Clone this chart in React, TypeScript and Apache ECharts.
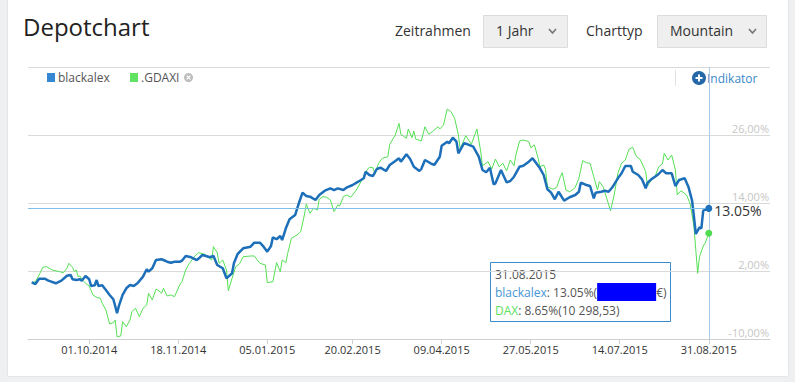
import React, { useEffect, useRef } from 'react';
import * as echarts from 'echarts';

const blueDates = [
  '2014-08-31','2014-09-02','2014-09-04','2014-09-07','2014-09-09','2014-09-13','2014-09-16','2014-09-19','2014-09-21','2014-09-22',
  '2014-09-24','2014-09-26','2014-09-27','2014-09-29','2014-10-01','2014-10-02','2014-10-04','2014-10-05','2014-10-06','2014-10-08',
  '2014-10-10','2014-10-12','2014-10-14','2014-10-15','2014-10-16','2014-10-17','2014-10-19','2014-10-21','2014-10-23','2014-10-25',
  '2014-10-27','2014-10-30','2014-11-01','2014-11-02','2014-11-04','2014-11-06','2014-11-09','2014-11-10','2014-11-12','2014-11-14',
  '2014-11-16','2014-11-19','2014-11-20','2014-11-22','2014-11-25','2014-11-28','2014-11-29','2014-12-01','2014-12-03','2014-12-05',
  '2014-12-07','2014-12-09','2014-12-12','2014-12-14','2014-12-17','2014-12-18','2014-12-20','2014-12-23','2014-12-27','2014-12-29',
  '2015-01-01','2015-01-03','2015-01-05','2015-01-07','2015-01-08','2015-01-10','2015-01-12','2015-01-13','2015-01-15','2015-01-17',
  '2015-01-20','2015-01-22','2015-01-24','2015-01-26','2015-01-28','2015-01-31','2015-02-02','2015-02-05','2015-02-08','2015-02-10',
  '2015-02-12','2015-02-15','2015-02-17','2015-02-20','2015-02-23','2015-02-26','2015-02-27','2015-03-01','2015-03-03','2015-03-05',
  '2015-03-07','2015-03-10','2015-03-12','2015-03-15','2015-03-17','2015-03-18','2015-03-21','2015-03-23','2015-03-25','2015-03-28',
  '2015-03-29','2015-03-31','2015-04-03','2015-04-05','2015-04-08','2015-04-09','2015-04-12','2015-04-13','2015-04-15','2015-04-17',
  '2015-04-18','2015-04-21','2015-04-23','2015-04-26','2015-04-29','2015-05-01','2015-05-03','2015-05-05','2015-05-07','2015-05-08',
  '2015-05-11','2015-05-12','2015-05-14','2015-05-16','2015-05-18','2015-05-21','2015-05-23','2015-05-26','2015-05-28','2015-05-30',
  '2015-06-01','2015-06-03','2015-06-05','2015-06-07','2015-06-09','2015-06-11','2015-06-14','2015-06-17','2015-06-20','2015-06-22',
  '2015-06-23','2015-06-26','2015-06-28','2015-06-30','2015-07-01','2015-07-04','2015-07-06','2015-07-08','2015-07-10','2015-07-13',
  '2015-07-15','2015-07-17','2015-07-20','2015-07-21','2015-07-24','2015-07-26','2015-07-28','2015-07-29','2015-07-31','2015-08-02',
  '2015-08-04','2015-08-06','2015-08-08','2015-08-11','2015-08-13','2015-08-15','2015-08-18','2015-08-20','2015-08-22','2015-08-23',
  '2015-08-24','2015-08-26','2015-08-27','2015-08-28','2015-08-31'
];
const blueValues = [
  0, -0.3, 0.64, 0.64, 0.29, -0.17, 0.29, 1.17, 1.3, 0.54,
  0.41, 0.54, 0.29, 1.12, 0.54, -0.65, -0.52, 0.41, -0.65, -0.52,
  -1.35, -2.23, -2.99, -4.17, -5.46, -4.17, -2.23, -1.05, -0.47, -0.65,
  -0.17, 1.0, 2.3, 1.88, 2.48, 3.94, 4.07, 3.94, 3.64, 3.47,
  3.64, 3.64, 3.82, 4.65, 4.42, 3.94, 4.2, 4.82, 4.65, 4.42,
  4.65, 3.06, 2.48, 0.71, 1.6, 3.36, 5.0, 6.0, 6.29, 7.0,
  7.0, 6.29, 5.41, 6.41, 7.95, 7.6, 8.18, 7.47, 9.54, 11.12,
  11.88, 13.95, 15.82, 15.24, 15.12, 14.53, 15.41, 16.17, 16.59, 16.29,
  16.59, 16.29, 16.77, 17.18, 17.76, 18.36, 19.52, 18.94, 18.77, 20.0,
  20.23, 19.65, 20.71, 21.41, 21.89, 21.29, 22.59, 21.76, 20.41, 19.65,
  20.0, 21.59, 21.01, 20.71, 22.17, 24.11, 24.82, 24.54, 25.52, 24.82,
  22.77, 24.54, 24.36, 23.94, 22.17, 19.82, 19.42, 20.23, 17.3, 17.48,
  19.82, 19.07, 17.65, 17.88, 18.64, 20.41, 20.58, 21.29, 21.89, 21.01,
  20.12, 18.94, 16.42, 15.82, 14.65, 15.99, 14.41, 15.01, 15.41, 15.99,
  17.58, 17.18, 17.0, 14.83, 15.82, 15.99, 16.17, 15.99, 16.77, 18.36,
  19.24, 20.53, 20.53, 19.52, 18.94, 18.18, 16.59, 17.58, 18.18, 18.64,
  19.12, 19.82, 19.24, 19.24, 17.0, 18.06, 18.36, 16.88, 14.41, 11.58,
  8.53, 9.71, 9.54, 12.64, 13.05
];

const greenDates = [
  '2014-08-31','2014-09-02','2014-09-04','2014-09-06','2014-09-08','2014-09-11','2014-09-15','2014-09-17','2014-09-19','2014-09-20',
  '2014-09-22','2014-09-23','2014-09-24','2014-09-25','2014-09-26','2014-09-27','2014-09-29','2014-10-01','2014-10-03','2014-10-05',
  '2014-10-07','2014-10-08','2014-10-10','2014-10-12','2014-10-14','2014-10-15','2014-10-16','2014-10-18','2014-10-19','2014-10-21',
  '2014-10-23','2014-10-24','2014-10-26','2014-10-28','2014-10-30','2014-11-01','2014-11-02','2014-11-04','2014-11-06','2014-11-07',
  '2014-11-09','2014-11-10','2014-11-12','2014-11-14','2014-11-16','2014-11-19','2014-11-20','2014-11-22','2014-11-24','2014-11-27',
  '2014-11-29','2014-12-02','2014-12-04','2014-12-06','2014-12-07','2014-12-09','2014-12-10','2014-12-12','2014-12-14','2014-12-15',
  '2014-12-17','2014-12-19','2014-12-21','2014-12-23','2014-12-27','2014-12-29','2015-01-01','2015-01-04','2015-01-05','2015-01-08',
  '2015-01-10','2015-01-12','2015-01-13','2015-01-15','2015-01-16','2015-01-18','2015-01-21','2015-01-23','2015-01-25','2015-01-26',
  '2015-01-28','2015-01-30','2015-02-01','2015-02-02','2015-02-04','2015-02-06','2015-02-08','2015-02-10','2015-02-12','2015-02-13',
  '2015-02-15','2015-02-17','2015-02-19','2015-02-22','2015-02-25','2015-02-27','2015-03-01','2015-03-03','2015-03-04','2015-03-06',
  '2015-03-08','2015-03-11','2015-03-12','2015-03-15','2015-03-17','2015-03-18','2015-03-21','2015-03-22','2015-03-24','2015-03-25',
  '2015-03-26','2015-03-29','2015-03-31','2015-04-02','2015-04-04','2015-04-07','2015-04-08','2015-04-10','2015-04-12','2015-04-14',
  '2015-04-16','2015-04-18','2015-04-19','2015-04-22','2015-04-25','2015-04-28','2015-04-30','2015-05-01','2015-05-04','2015-05-06',
  '2015-05-08','2015-05-10','2015-05-12','2015-05-14','2015-05-16','2015-05-18','2015-05-19','2015-05-21','2015-05-23','2015-05-26',
  '2015-05-27','2015-05-29','2015-05-31','2015-06-01','2015-06-03','2015-06-04','2015-06-05','2015-06-08','2015-06-10','2015-06-12',
  '2015-06-13','2015-06-15','2015-06-17','2015-06-19','2015-06-20','2015-06-22','2015-06-24','2015-06-26','2015-06-28','2015-06-30',
  '2015-07-02','2015-07-03','2015-07-05','2015-07-07','2015-07-09','2015-07-11','2015-07-13','2015-07-15','2015-07-17','2015-07-19',
  '2015-07-21','2015-07-23','2015-07-25','2015-07-28','2015-07-29','2015-07-31','2015-08-02','2015-08-04','2015-08-06','2015-08-07',
  '2015-08-09','2015-08-11','2015-08-13','2015-08-14','2015-08-16','2015-08-19','2015-08-21','2015-08-23','2015-08-24','2015-08-25',
  '2015-08-26','2015-08-28','2015-08-29','2015-08-31'
];
const greenValues = [
  0, 0.11, 1.3, 2.65, 2.77, 2.18, 1.88, 1.7, 2.48, 3.36,
  2.65, 1.88, 2.18, 1.0, 1.12, 0.54, -0.17, -0.65, -2.23, -2.64,
  -2.82, -3.7, -4.88, -7.35, -7.12, -6.65, -9.59, -9.47, -6.95, -7.83,
  -6.65, -5.18, -4.58, -6.06, -4.58, -4.0, -1.93, -3.12, -1.23, -1.35,
  -1.93, -1.05, -2.41, -2.23, -2.53, -0.29, 0.11, 2.18, 3.36, 4.65,
  5.23, 5.0, 4.52, 3.94, 6.29, 5.23, 3.36, 3.94, 2.18, -1.47,
  0.71, 2.76, 3.24, 4.52, 4.65, 4.65, 3.36, 3.06, -0.06, 0.11,
  3.47, 1.88, 3.94, 3.47, 5.12, 7.77, 8.35, 8.94, 11.88, 13.82,
  12.18, 13.07, 12.77, 14.65, 15.12, 15.01, 14.53, 12.47, 13.65, 13.47,
  15.12, 15.41, 15.01, 16.29, 18.06, 19.52, 20.3, 20.23, 19.07, 21.01,
  21.89, 22.17, 24.36, 26.0, 28.06, 26.12, 25.42, 27.06, 25.52, 26.71,
  25.29, 24.94, 27.46, 26.12, 26.58, 27.46, 27.06, 27.76, 30.59, 30.11,
  28.95, 26.0, 23.53, 25.88, 24.36, 27.06, 23.18, 20.58, 21.29, 20.0,
  21.76, 20.41, 21.01, 19.65, 21.59, 20.58, 22.47, 24.94, 25.12, 24.82,
  23.76, 24.24, 21.89, 20.41, 20.71, 19.95, 16.88, 16.42, 16.77, 18.64,
  19.35, 16.29, 15.99, 16.42, 16.77, 18.36, 21.47, 21.11, 21.01, 18.64,
  16.29, 17.76, 16.88, 14.83, 12.64, 15.41, 19.24, 21.01, 21.59, 23.48,
  23.83, 22.17, 21.71, 19.52, 17.0, 18.06, 18.64, 20.41, 20.88, 22.77,
  21.59, 22.47, 19.82, 15.41, 16.17, 15.41, 13.82, 9.82, 5.71, 1.6,
  4.52, 6.41, 6.89, 8.65
];

const xTickDates = ['2014-10-01', '2014-11-18', '2015-01-05', '2015-02-20', '2015-04-09', '2015-05-27', '2015-07-14', '2015-08-31'];
const yGridValues = [-10, 2, 14, 26, 38];
const yLabelValues = [-10, 2, 14, 26];
const axisStart = '2014-08-29';
const axisEnd = '2015-10-03';
const seriesNames = ['blackalex', '.GDAXI'];
const legendColors = ['#3489d2', '#62e262'];
const daxShortName = 'DAX';
const daxLevelText = '10 298,53';
const timeframeOptions = ['1 Jahr'];
const chartTypeOptions = ['Mountain'];

const FONT = '"Open Sans", "Noto Sans", sans-serif';
const BLUE = '#1c6fb8';
const GREEN = '#55e055';

function parseDay(s: string): number {
  const [y, m, d] = s.split('-').map(Number);
  return Date.UTC(y, m - 1, d);
}
function fmtDate(ts: number): string {
  const dt = new Date(ts);
  const dd = String(dt.getUTCDate()).padStart(2, '0');
  const mm = String(dt.getUTCMonth() + 1).padStart(2, '0');
  return `${dd}.${mm}.${dt.getUTCFullYear()}`;
}
function fmtAxisPct(v: number): string {
  return v.toFixed(2).replace('.', ',') + '%';
}

export default function App() {
  const ref = useRef<HTMLDivElement>(null);

  useEffect(() => {
    if (!ref.current) return;
    const chart = echarts.init(ref.current, null, { renderer: 'svg' });

    const blueData = blueDates.map((d, i) => [parseDay(d), blueValues[i]]);
    const greenData = greenDates.map((d, i) => [parseDay(d), greenValues[i]]);
    const lastBlue = blueData[blueData.length - 1];
    const lastGreen = greenData[greenData.length - 1];
    const xMin = parseDay(axisStart);
    const xMax = parseDay(axisEnd);
    const lastDateText = fmtDate(lastBlue[0] as number);
    const blueLastText = (lastBlue[1] as number).toFixed(2) + '%';
    const greenLastText = (lastGreen[1] as number).toFixed(2) + '%';
    const xTicks = xTickDates.map(parseDay);

    const chevron = (x: number) => ({
      type: 'polyline',
      shape: { points: [[x, 29], [x + 3.5, 33], [x + 7, 29]] },
      style: { stroke: '#777', lineWidth: 1.6, fill: null },
    });

    chart.setOption({
      animation: false,
      backgroundColor: 'transparent',
      textStyle: { fontFamily: FONT },
      grid: { left: 28, right: 25, top: 67, bottom: 43 },
      xAxis: {
        type: 'value',
        min: xMin,
        max: xMax,
        axisLine: { show: true, onZero: false, lineStyle: { color: '#cfcfcf', width: 1 } },
        axisTick: {
          show: true,
          length: 5,
          lineStyle: { color: '#cfcfcf' },
          customValues: xTicks,
        },
        axisLabel: {
          customValues: xTicks,
          formatter: (v: number) => fmtDate(v),
          color: '#333',
          fontSize: 11,
          fontFamily: FONT,
          margin: 5,
        },
        splitLine: { show: false },
      },
      yAxis: {
        type: 'value',
        position: 'right',
        min: -10,
        max: 38,
        axisLine: { show: false },
        axisTick: { show: false, customValues: yGridValues },
        axisLabel: {
          customValues: yLabelValues,
          inside: true,
          margin: 1,
          verticalAlign: 'bottom',
          lineHeight: 12,
          padding: [0, 0, 1, 0],
          color: '#c6c6c6',
          fontSize: 11,
          fontFamily: FONT,
          formatter: (v: number) => fmtAxisPct(v),
        },
        splitLine: { show: true, lineStyle: { color: '#dadada', width: 1 } },
      },
      series: [
        {
          name: seriesNames[1],
          type: 'line',
          data: greenData,
          showSymbol: false,
          z: 2,
          lineStyle: { color: GREEN, width: 1 },
          itemStyle: { color: GREEN },
          markPoint: {
            symbol: 'circle',
            symbolSize: 7,
            label: { show: false },
            itemStyle: { color: '#4fdc4f' },
            data: [{ coord: lastGreen }],
          },
        },
        {
          name: seriesNames[0],
          type: 'line',
          data: blueData,
          showSymbol: false,
          z: 3,
          lineStyle: { color: BLUE, width: 2.5 },
          itemStyle: { color: BLUE },
          markLine: {
            silent: true,
            symbol: 'none',
            label: { show: false },
            data: [
              [
                { coord: [xMin, lastBlue[1]], lineStyle: { color: '#7fc0ea', width: 1, type: 'solid' } },
                { coord: lastBlue },
              ],
              { xAxis: lastBlue[0], lineStyle: { color: '#a8cbe9', width: 1, type: 'solid' } },
            ],
          },
          markPoint: {
            symbol: 'circle',
            symbolSize: 7,
            itemStyle: { color: '#1e72bc' },
            label: {
              show: true,
              position: 'right',
              distance: 2,
              offset: [0, 2],
              lineHeight: 15,
              formatter: blueLastText,
              color: '#333',
              fontSize: 14,
              fontFamily: FONT,
            },
            data: [{ coord: lastBlue }],
          },
        },
      ],
      graphic: [
        {
          type: 'text',
          left: 23,
          top: 14,
          style: { text: 'Depotchart', font: `24px ${FONT}`, fill: '#222' },
        },
        {
          type: 'text',
          left: 395,
          top: 23,
          style: { text: 'Zeitrahmen', font: `14px ${FONT}`, fill: '#333' },
        },
        {
          type: 'rect',
          shape: { x: 483.5, y: 15.5, width: 84, height: 32 },
          style: { fill: '#efefef', stroke: '#dcdcdc', lineWidth: 1 },
        },
        {
          type: 'text',
          left: 496,
          top: 23,
          style: { text: timeframeOptions[0], font: `14px ${FONT}`, fill: '#333' },
        },
        chevron(549),
        {
          type: 'text',
          left: 586,
          top: 23,
          style: { text: 'Charttyp', font: `14px ${FONT}`, fill: '#333' },
        },
        {
          type: 'rect',
          shape: { x: 657.5, y: 15.5, width: 109, height: 32 },
          style: { fill: '#efefef', stroke: '#dcdcdc', lineWidth: 1 },
        },
        {
          type: 'text',
          left: 670,
          top: 23,
          style: { text: chartTypeOptions[0], font: `14px ${FONT}`, fill: '#333' },
        },
        chevron(749),
        // legend
        {
          type: 'rect',
          shape: { x: 47, y: 73, width: 8, height: 9 },
          style: { fill: legendColors[0] },
        },
        {
          type: 'text',
          x: 58,
          y: 77.5,
          style: { text: seriesNames[0], font: `12px ${FONT}`, fill: '#555', verticalAlign: 'middle' },
        },
        {
          type: 'rect',
          shape: { x: 130, y: 73, width: 8, height: 9 },
          style: { fill: legendColors[1] },
        },
        {
          type: 'text',
          x: 141,
          y: 77.5,
          style: { text: seriesNames[1], font: `12px ${FONT}`, fill: '#555', verticalAlign: 'middle' },
        },
        {
          type: 'circle',
          shape: { cx: 188.5, cy: 77.5, r: 4.5 },
          style: { fill: '#bdbdbd' },
        },
        {
          type: 'line',
          shape: { x1: 186.6, y1: 75.6, x2: 190.4, y2: 79.4 },
          style: { stroke: '#fff', lineWidth: 1.2 },
        },
        {
          type: 'line',
          shape: { x1: 190.4, y1: 75.6, x2: 186.6, y2: 79.4 },
          style: { stroke: '#fff', lineWidth: 1.2 },
        },
        {
          type: 'line',
          shape: { x1: 675.5, y1: 70, x2: 675.5, y2: 86 },
          style: { stroke: '#e2e2e2', lineWidth: 1 },
        },
        {
          type: 'circle',
          shape: { cx: 699, cy: 78, r: 7 },
          style: { fill: '#2568a8' },
        },
        {
          type: 'line',
          shape: { x1: 695.5, y1: 78, x2: 702.5, y2: 78 },
          style: { stroke: '#fff', lineWidth: 2 },
        },
        {
          type: 'line',
          shape: { x1: 699, y1: 74.5, x2: 699, y2: 81.5 },
          style: { stroke: '#fff', lineWidth: 2 },
        },
        {
          type: 'text',
          x: 707,
          y: 78,
          style: { text: 'Indikator', font: `12px ${FONT}`, fill: '#3a88c8', verticalAlign: 'middle' },
        },
        {
          type: 'group',
          x: 490,
          y: 262,
          z: 100,
          children: [
            {
              type: 'rect',
              shape: { x: 0.5, y: 0.5, width: 180, height: 59 },
              style: { fill: 'rgba(255,255,255,0.97)', stroke: '#3b8ccc', lineWidth: 1 },
            },
            {
              type: 'text',
              x: 5,
              y: 12.5,
              style: { text: lastDateText, font: `12px ${FONT}`, fill: '#555', verticalAlign: 'middle' },
            },
            {
              type: 'text',
              x: 5,
              y: 30,
              style: {
                text: `{a|${seriesNames[0]}}{b|: ${blueLastText}(}{c| }{b|€)}`,
                verticalAlign: 'middle',
                rich: {
                  a: { font: `12px ${FONT}`, fill: '#4596d6' },
                  b: { font: `12px ${FONT}`, fill: '#555' },
                  c: { width: 59, height: 18, backgroundColor: '#0000ff', font: `12px ${FONT}` },
                },
              },
            },
            {
              type: 'text',
              x: 5,
              y: 48,
              style: {
                text: `{a|${daxShortName}}{b|: ${greenLastText}(${daxLevelText})}`,
                verticalAlign: 'middle',
                rich: {
                  a: { font: `12px ${FONT}`, fill: '#5ede5e' },
                  b: { font: `12px ${FONT}`, fill: '#555' },
                },
              },
            },
          ],
        },
      ],
    });

    return () => chart.dispose();
  }, []);

  return (
    <div style={{ position: 'fixed', left: 0, top: 0, width: 795, height: 382, background: '#eff0f1' }}>
      <div
        style={{
          position: 'absolute',
          left: 8,
          top: -4,
          width: 780,
          height: 380,
          background: '#fff',
          boxShadow: '0 0 2px rgba(0,0,0,0.12)',
        }}
      />
      <div ref={ref} style={{ position: 'absolute', left: 0, top: 0, width: 795, height: 382 }} />
    </div>
  );
}
